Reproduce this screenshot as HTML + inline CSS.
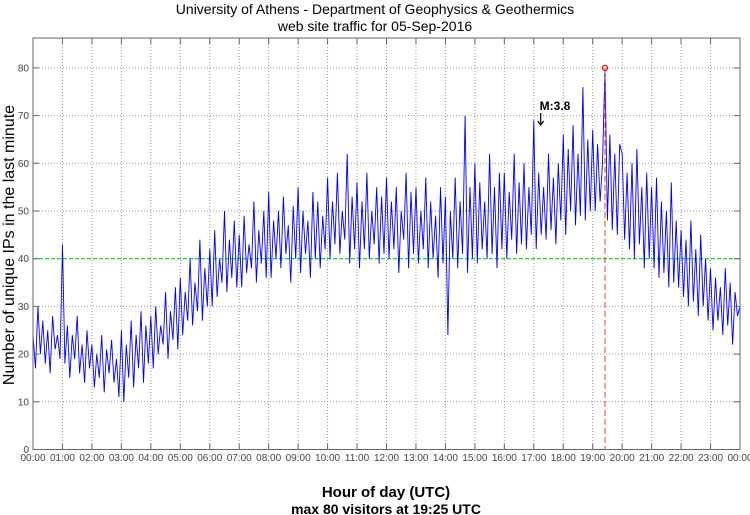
<!DOCTYPE html>
<html><head><meta charset="utf-8"><style>
body{margin:0;background:#fff;}
svg{display:block;font-family:"Liberation Sans",sans-serif;}
</style></head><body>
<svg id="chart" width="750" height="515">
<text x="375" y="14" text-anchor="middle" font-size="14">University of Athens - Department of Geophysics &amp; Geothermics</text>
<text x="375" y="31" text-anchor="middle" font-size="14">web site traffic for 05-Sep-2016</text>
<text transform="translate(14,245) rotate(-90)" text-anchor="middle" font-size="16">Number of unique IPs in the last minute</text>
<text x="386" y="497" text-anchor="middle" font-size="15" font-weight="bold">Hour of day (UTC)</text>
<text x="386" y="514" text-anchor="middle" font-size="14" font-weight="bold">max 80 visitors at 19:25 UTC</text>
<g id="grid"></g><g id="plot"></g><g id="axes"></g>
</svg>
<script>
const yTicks=[0,10,20,30,40,50,60,70,80];
const xTickLabels=["00:00","01:00","02:00","03:00","04:00","05:00","06:00","07:00","08:00","09:00","10:00","11:00","12:00","13:00","14:00","15:00","16:00","17:00","18:00","19:00","20:00","21:00","22:00","23:00","00:00"];
// visitors, 5-minute samples
const visitors=[
24,17,30,20,27,18,25,16,28,21,24,19,
43,18,26,15,24,19,28,16,22,14,25,17,
22,13,20,15,24,12,21,16,23,14,19,11,
25,10,22,15,27,13,24,17,29,14,26,18,
28,17,30,20,26,22,33,19,29,23,34,21,
36,24,33,27,40,26,35,29,44,27,38,30,
42,30,46,32,40,35,50,33,44,36,48,34,
45,34,49,37,43,38,52,35,46,39,50,36,
54,36,48,40,50,38,53,41,47,35,51,40,
55,37,50,41,48,36,54,40,52,38,49,42,
57,40,52,43,58,41,50,44,62,39,53,42,
56,38,52,42,58,40,50,43,55,39,53,41,
57,40,52,42,55,37,50,44,58,38,54,41,
55,39,50,42,57,38,52,40,49,36,55,39,
53,24,50,40,57,38,52,41,70,37,55,40,
60,39,56,42,52,40,62,41,55,38,58,42,
58,40,54,44,62,41,56,43,60,42,55,45,
69,42,58,45,55,44,62,46,57,43,60,48,
66,45,63,50,68,47,62,49,76,48,65,50,
67,50,64,52,60,80,48,66,46,62,45,64,
62,44,58,42,60,40,63,43,55,38,58,40,
55,38,57,36,52,37,50,34,56,35,48,34,
46,32,44,30,48,31,42,28,45,30,40,27,
38,25,36,27,34,24,38,26,35,22,33,28,30];
const meanLevel=[40];
const maxPoint=[19+25/60,80];
const markerM=[17.2,3.8];

const L=33,R=740,T=38,B=449.5;
const xs=h=>L+h*(R-L)/24;
const ys=v=>B-v*4.77;
const NS="http://www.w3.org/2000/svg";
function mk(p,tag,a){const e=document.createElementNS(NS,tag);for(const k in a)e.setAttribute(k,a[k]);document.getElementById(p).appendChild(e);return e;}
yTicks.forEach(v=>{if(v===0)return;const e=mk('grid','line',{x1:L,x2:R,y1:ys(v),y2:ys(v),stroke:'#999','stroke-width':1,'stroke-dasharray':'1,2'});

});
xTickLabels.forEach((t,i)=>{if(i===0||i===24)return;const e=mk('grid','line',{x1:xs(i),x2:xs(i),y1:T,y2:B,stroke:'#999','stroke-width':1,'stroke-dasharray':'1,2'});

});
const ml=mk('plot','line',{x1:L,x2:R,y1:ys(meanLevel[0]),y2:ys(meanLevel[0]),stroke:'#00dd00','stroke-width':1.2,'stroke-dasharray':'4,2'});


const pts=visitors.map((v,i)=>xs(i*24/(visitors.length-1)).toFixed(1)+','+ys(v).toFixed(1)).join(' ');
const pl=mk('plot','polyline',{points:pts,fill:'none',stroke:'#0000ff','stroke-width':0.9});


const mx=xs(maxPoint[0]);
const rl=mk('plot','line',{x1:mx,x2:mx,y1:ys(maxPoint[1]),y2:B,stroke:'#ff3333','stroke-width':1,'stroke-dasharray':'6,3'});


const rc=mk('plot','circle',{cx:mx,cy:ys(maxPoint[1]),r:2.6,fill:'none',stroke:'#ff0000','stroke-width':1.2});


const ax=xs(markerM[0]);
const mt=mk('plot','text',{x:ax,y:110,'font-size':12,'font-weight':'bold'});mt.textContent='M:'+markerM[1];


const ar=mk('plot','path',{d:`M${ax+1},113 L${ax+1},125 M${ax-2},121 L${ax+1},125 L${ax+4},121`,fill:'none',stroke:'#000','stroke-width':1.2});


const fr=mk('axes','rect',{x:L,y:T,width:R-L,height:B-T,fill:'none',stroke:'#666','stroke-width':1});


yTicks.forEach(v=>{mk('axes','line',{x1:L,x2:L+6,y1:ys(v),y2:ys(v),stroke:'#666'});mk('axes','line',{x1:R-6,x2:R,y1:ys(v),y2:ys(v),stroke:'#666'});
const t=mk('axes','text',{x:L-4,y:ys(v)+3.5,'text-anchor':'end','font-size':10,fill:'#444'});t.textContent=v;

});
xTickLabels.forEach((s,i)=>{mk('axes','line',{x1:xs(i),x2:xs(i),y1:B-6,y2:B,stroke:'#666'});mk('axes','line',{x1:xs(i),x2:xs(i),y1:T,y2:T+6,stroke:'#666'});
const t=mk('axes','text',{x:xs(i),y:461,'text-anchor':'middle','font-size':10,fill:'#444'});t.textContent=s;

});
</script>
</body></html>
